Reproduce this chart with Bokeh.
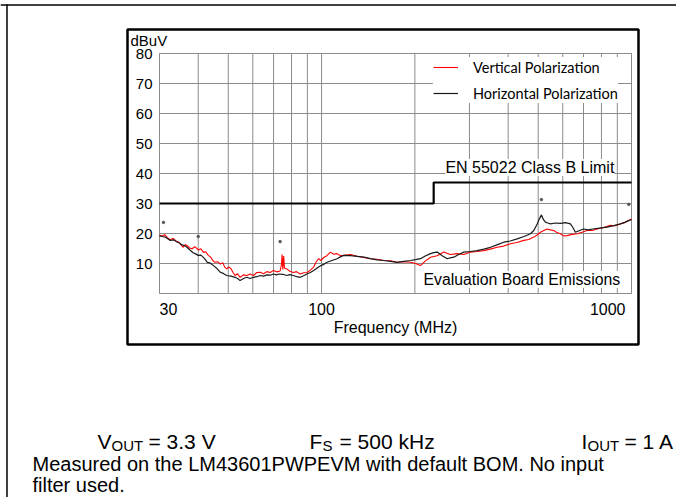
from math import log10
from bokeh.plotting import figure
from bokeh.models import Label, Legend, LegendItem, Range1d, LinearScale
from bokeh.core.properties import value
from bokeh.embed import file_html
from bokeh.resources import INLINE

# ---------------- data ----------------
vert_freq = [30.0, 30.5, 31.2, 31.8, 32.5, 33.2, 33.9, 34.6, 35.2, 35.8, 36.3, 36.8, 37.5, 38.2,
             39.0, 40.1, 40.8, 41.6, 42.3, 43.1, 43.8, 44.6, 45.3, 46.2, 47.1, 48.0, 48.7, 49.4,
             50.2, 51.0, 51.8, 52.6, 53.5, 54.6, 56.0, 57.4, 58.8, 60.3, 61.8, 63.4, 65.0, 66.6,
             68.3, 70.0, 71.8, 73.5, 74.2, 74.6, 75.0, 75.5, 75.9, 77.2, 79.0, 81.1, 83.0, 85.3,
             87.5, 89.7, 92.0, 94.3, 96.0, 97.9, 99.5, 101.6, 104.0, 106.8, 109.5, 112.2, 115.0,
             117.8, 124.0, 130.2, 137.0, 143.8, 151.0, 158.8, 167.0, 175.4, 184.0, 193.7, 201.0,
             208.5, 216.0, 224.7, 236.0, 248.1, 260.0, 273.9, 288.0, 302.2, 318.0, 333.6, 350.0,
             368.5, 387.0, 406.8, 427.0, 449.1, 466.0, 483.8, 496.0, 508.4, 521.0, 534.4, 547.0,
             561.3, 575.0, 589.8, 604.0, 620.0, 643.0, 667.8, 693.0, 719.2, 746.0, 774.0, 813.0,
             854.8, 886.0, 920.4, 950.0, 978.4, 1000.0]
vert_dbuv = [19.5, 19.2, 19.6, 18.6, 17.9, 18.4, 17.5, 17.1, 16.2, 15.4, 16.3, 16.0, 15.2, 14.9,
             15.6, 14.5, 14.9, 13.7, 13.9, 12.7, 12.2, 11.0, 10.4, 10.6, 9.8, 10.3, 8.8, 8.2,
             8.9, 8.3, 7.0, 6.0, 6.6, 5.4, 6.2, 6.0, 6.5, 6.0, 7.0, 7.1, 6.6, 7.3,
             7.0, 7.7, 7.2, 7.5, 9.5, 13.0, 8.0, 12.5, 8.5, 8.2, 7.4, 7.0, 7.3, 6.5,
             6.9, 7.0, 7.8, 8.8, 10.5, 11.6, 11.0, 12.0, 12.6, 13.8, 13.1, 13.3, 12.6,
             12.7, 13.0, 12.4, 12.0, 11.6, 11.4, 11.0, 10.9, 10.4, 10.6, 10.4, 10.0,
             9.3, 10.8, 12.1, 12.6, 13.8, 13.0, 13.3, 13.0, 13.8, 14.0, 14.3, 14.8,
             15.4, 15.8, 16.6, 17.0, 17.7, 18.0, 18.8, 19.5, 20.4, 21.0, 21.5, 21.2,
             21.0, 20.3, 19.9, 19.2, 19.3, 19.7, 19.9, 20.4, 21.0, 21.0, 21.5, 22.0,
             22.7, 22.6, 23.2, 23.6, 24.3, 24.8]

horiz_freq = [30.0, 30.6, 31.3, 32.0, 32.5, 33.3, 34.0, 34.6, 35.5, 36.2, 36.8, 37.6, 38.5, 39.2,
              40.0, 40.8, 41.8, 42.8, 43.8, 44.8, 45.9, 47.1, 48.2, 49.4, 51.0, 52.6, 53.6, 54.6,
              56.0, 57.4, 58.8, 60.3, 61.8, 63.4, 65.0, 66.6, 68.3, 70.0, 71.5, 73.0, 75.0, 77.2,
              79.0, 81.1, 83.2, 85.3, 87.5, 89.7, 92.0, 94.3, 97.0, 99.6, 102.0, 104.2, 108.0,
              112.2, 115.0, 117.8, 124.0, 130.2, 137.0, 143.8, 151.0, 158.8, 167.0, 175.4, 184.0,
              193.7, 201.0, 208.5, 216.0, 224.7, 230.0, 236.2, 245.0, 254.4, 260.0, 267.2, 277.0,
              287.7, 302.0, 317.6, 334.0, 350.6, 368.0, 387.0, 406.0, 427.6, 450.0, 472.1, 484.0,
              496.2, 504.0, 512.3, 520.0, 527.7, 537.0, 547.7, 568.0, 589.8, 612.0, 635.3, 647.0,
              659.3, 680.0, 701.3, 725.0, 750.0, 790.0, 834.1, 876.0, 920.4, 950.0, 978.4, 1000.0]
horiz_dbuv = [19.2, 19.0, 18.8, 18.2, 17.7, 17.9, 17.3, 17.0, 16.2, 15.9, 15.4, 14.5, 13.6, 13.2,
              12.7, 12.8, 11.8, 10.4, 10.1, 9.3, 8.4, 7.1, 6.7, 6.0, 5.8, 5.4, 5.0, 4.3,
              5.0, 5.4, 5.0, 5.4, 5.6, 6.0, 5.8, 6.2, 6.1, 6.5, 6.2, 6.5, 6.4, 6.0,
              6.3, 6.0, 5.6, 5.4, 5.9, 6.5, 7.0, 7.7, 8.6, 9.3, 9.8, 10.4, 11.0,
              11.6, 12.2, 12.7, 12.6, 12.4, 12.1, 11.6, 11.2, 11.0, 10.7, 10.4, 10.7,
              11.0, 11.3, 11.6, 12.5, 13.3, 13.6, 13.8, 12.6, 11.6, 11.9, 12.1, 13.0,
              13.8, 14.0, 14.3, 14.8, 15.4, 16.2, 17.1, 17.5, 18.2, 19.0, 19.9, 21.0,
              23.2, 24.8, 26.2, 24.6, 23.8, 23.5, 23.2, 23.5, 23.4, 23.6, 23.2, 22.0,
              20.4, 21.0, 21.5, 21.2, 21.5, 21.8, 22.1, 22.6, 23.2, 23.7, 24.3, 24.6]

limit_freq = [30, 230, 230, 1000]
limit_dbuv = [30, 30, 37, 37]

peak_freq = [30.9, 40.0, 73.5, 512.0, 980.0]
peak_dbuv = [23.7, 19.0, 17.3, 31.3, 29.7]

x_grid_ticks = [30, 40, 50, 60, 70, 80, 90, 100, 200, 300, 400, 500, 600, 700, 800, 900, 1000]
x_label_ticks = [30, 100, 1000]
x_label_texts = ["30", "100", "1000"]
y_grid_ticks = [10, 20, 30, 40, 50, 60, 70]
y_label_ticks = [10, 20, 30, 40, 50, 60, 70, 80]
y_label_texts = ["10", "20", "30", "40", "50", "60", "70", "80"]

X0, X1 = 30, 1000      # frequency span of the plot area (MHz)
Y0, Y1 = 0, 80         # level span of the plot area (dBuV)

FONT = "Liberation Sans"

# ---------------- layout constants (pixels) ----------------
W, H = 676, 497
FR_L, FR_R, FR_T, FR_B = 159, 631, 53, 293   # plot area inside the canvas

dec = (FR_R - FR_L) / log10(X1 / X0)          # pixels per decade
pdb = (FR_B - FR_T) / (Y1 - Y0)               # pixels per dB

p = figure(width=W, height=H, output_backend="svg", toolbar_location=None,
           x_axis_type="log", min_border=0, x_axis_location=None, y_axis_location=None,
           x_range=Range1d(X0 * 10 ** (-FR_L / dec), X0 * 10 ** ((W - FR_L) / dec)),
           y_range=Range1d(Y0 - (H - FR_B) / pdb, Y0 + FR_B / pdb))
p.outline_line_color = None
p.background_fill_color = "white"
p.border_fill_color = "white"
for g in p.grid:
    g.visible = False

# page pixel coordinates for the surrounding decorations
p.extra_x_ranges = {"px": Range1d(0, W)}
p.extra_y_ranges = {"px": Range1d(H, 0)}
p.extra_x_scales = {"px": LinearScale()}
p.extra_y_scales = {"px": LinearScale()}

# outer rule and chart box
p.line(x=[0, W], y=[4.5, 4.5], line_color="black", line_width=1.5,
       x_range_name="px", y_range_name="px")
p.line(x=[6.5, 6.5], y=[4, H], line_color="black", line_width=1.5,
       x_range_name="px", y_range_name="px")
p.quad(left=127, right=638, top=29, bottom=344, fill_color=None,
       line_color="black", line_width=2.5, x_range_name="px", y_range_name="px")

# plot area grid
GRID = "#8c8c8c"
p.segment(x0=x_grid_ticks, x1=x_grid_ticks, y0=[Y0] * len(x_grid_ticks),
          y1=[Y1] * len(x_grid_ticks), line_color=GRID, line_width=1)
p.segment(x0=[X0] * len(y_grid_ticks), x1=[X1] * len(y_grid_ticks), y0=y_grid_ticks,
          y1=y_grid_ticks, line_color=GRID, line_width=1)
p.quad(left=X0, right=X1, bottom=Y0, top=Y1, fill_color=None, line_color=GRID, line_width=1)

# tick labels
p.text(x=[X0] * len(y_label_ticks), y=y_label_ticks, text=y_label_texts, x_offset=-7,
       text_align="right", text_baseline="middle", text_font=value(FONT),
       text_font_size=value("15px"), text_color="black")
for t, s, a, o in zip(x_label_ticks, x_label_texts, ["left", "center", "right"], [0, 0, -6]):
    p.text(x=[t], y=[308], text=[s], x_offset=o, text_align=a, text_baseline="middle",
           text_font=value(FONT), text_font_size=value("16px"), text_color="black",
           y_range_name="px")
p.text(x=[(X0 * X1) ** 0.5], y=[327], text=["Frequency (MHz)"], text_align="center",
       text_baseline="middle", text_font=value(FONT), text_font_size=value("16px"),
       text_color="black", y_range_name="px")
p.text(x=[130], y=[40], text=["dBuV"], text_align="left", text_baseline="middle",
       text_font=value(FONT), text_font_size=value("15px"), text_color="black",
       x_range_name="px", y_range_name="px")

# data
r_vert = p.line(vert_freq, vert_dbuv, line_color="#ff0000", line_width=1.1)
r_horiz = p.line(horiz_freq, horiz_dbuv, line_color="#1a1a1a", line_width=1.2)
p.line(limit_freq, limit_dbuv, line_color="black", line_width=2.2)
p.scatter(peak_freq, peak_dbuv, size=2.5, color="#555555")

p.add_layout(Label(x=470, y=42, text="EN 55022 Class B Limit", text_align="center",
                   text_baseline="middle", text_font=FONT, text_font_size="16px",
                   text_color="black", background_fill_color="white", background_fill_alpha=1))
p.add_layout(Label(x=443, y=4.7, text="Evaluation Board Emissions", text_align="center",
                   text_baseline="middle", text_font=FONT, text_font_size="15.8px",
                   text_color="black", background_fill_color="white", background_fill_alpha=1))

legend = Legend(items=[LegendItem(label="Vertical Polarization", renderers=[r_vert]),
                       LegendItem(label="Horizontal Polarization", renderers=[r_horiz])],
                location=(433, H - 103), glyph_width=25, glyph_height=20, label_height=20,
                label_standoff=15, spacing=6, padding=0, margin=0,
                border_line_color=None, background_fill_color="white", background_fill_alpha=1,
                label_text_font="Lato", label_text_font_size="14.5px", label_text_color="black")
p.add_layout(legend)

# operating conditions and note
def btxt(x, y, s, size):
    p.text(x=[x], y=[y], text=[s], text_align="left", text_baseline="middle",
           text_font=value(FONT), text_font_size=value(size), text_color="black",
           x_range_name="px", y_range_name="px")

BIG, SUB, NOTE = "21px", "15px", "20px"
btxt(97, 441, "V", BIG)
btxt(111, 445, "OUT", SUB)
btxt(148, 441, "= 3.3 V", BIG)
btxt(309, 441, "F", BIG)
btxt(322, 445, "S", SUB)
btxt(339, 441, "= 500 kHz", BIG)
btxt(581, 441, "I", BIG)
btxt(587, 445, "OUT", SUB)
btxt(624, 441, "= 1 A", BIG)
btxt(32, 463, "Measured on the LM43601PWPEVM with default BOM. No input", NOTE)
btxt(32, 484, "filter used.", NOTE)

open("out.html", "w").write(file_html(p, INLINE))
